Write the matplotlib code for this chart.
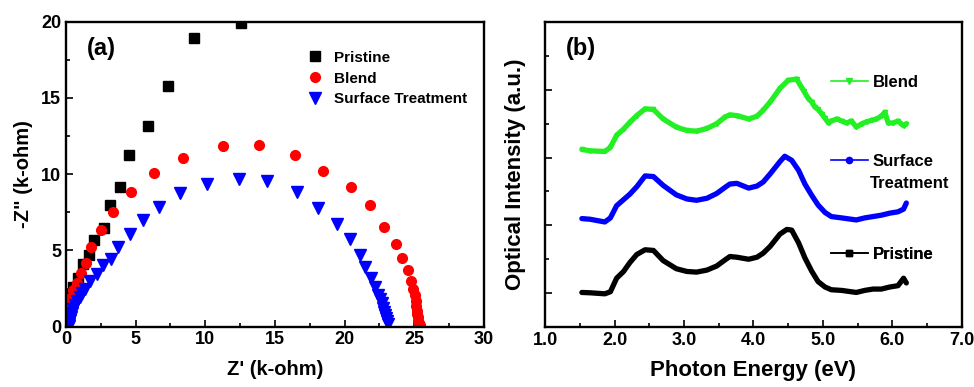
import matplotlib
matplotlib.use("Agg")
import matplotlib.pyplot as plt
from matplotlib.lines import Line2D
from matplotlib.ticker import MultipleLocator, NullFormatter

plt.rcParams["font.family"] = ["Liberation Sans", "DejaVu Sans"]
plt.rcParams["font.weight"] = "bold"
plt.rcParams["axes.labelweight"] = "bold"

# ---------------- (a) impedance data, Z' vs -Z'' in k-ohm ----------------
pristine_zr = [0.03, 0.08, 0.17, 0.29, 0.53, 0.88, 1.24, 1.68, 1.98, 2.70, 3.16, 3.88, 4.55, 5.86, 7.34, 9.19, 12.54]
pristine_zi = [0.55, 1.10, 1.64, 2.08, 2.62, 3.18, 4.10, 4.70, 5.67, 6.46, 7.97, 9.14, 11.28, 13.18, 15.80, 18.90, 19.93]

blend_zr = [0.02, 0.05, 0.10, 0.17, 0.29, 0.53, 0.81, 1.08, 1.44, 1.79, 2.51, 3.40, 4.64, 6.32, 8.42,
            11.24, 13.88, 16.44, 18.47, 20.45, 21.85, 22.84, 23.66, 24.15, 24.56, 24.76, 24.93, 25.02,
            25.10, 25.15, 25.19, 25.22, 25.25, 25.30, 25.35, 25.40]
blend_zi = [0.30, 0.65, 0.98, 1.42, 1.86, 2.40, 2.84, 3.54, 4.15, 5.25, 6.34, 7.50, 8.81, 10.05, 11.06,
            11.85, 11.89, 11.28, 10.23, 9.14, 7.95, 6.52, 5.42, 4.49, 3.70, 3.00, 2.50, 2.05,
            1.70, 1.36, 1.05, 0.80, 0.60, 0.40, 0.22, 0.08]

surface_zr = [0.20, 0.22, 0.24, 0.29, 0.35, 0.41, 0.52, 0.65, 0.82, 1.00, 1.18, 1.36, 1.72, 2.20, 2.68,
              3.21, 3.76, 4.59, 5.50, 6.70, 8.18, 10.10, 12.44, 14.40, 16.56, 18.11, 19.47, 20.36,
              21.08, 21.50, 21.88, 22.18, 22.42, 22.56, 22.66, 22.75, 22.83, 22.90, 22.97, 23.03, 23.08]
surface_zi = [0.05, 0.15, 0.30, 0.44, 0.65, 0.87, 1.15, 1.42, 1.70, 1.97, 2.20, 2.45, 2.99, 3.43, 4.04,
              4.42, 5.25, 6.05, 6.99, 7.87, 8.74, 9.36, 9.68, 9.55, 8.85, 7.76, 6.73, 5.77,
              4.68, 3.90, 3.18, 2.63, 2.10, 1.80, 1.54, 1.25, 0.99, 0.75, 0.55, 0.35, 0.18]

# ---------------- (b) optical spectra, energy in eV, offset intensity ----------------
pristine_ev = [1.53, 1.65, 1.86, 1.94, 2.03, 2.13, 2.22, 2.32, 2.44, 2.56, 2.70, 2.89, 3.04, 3.18, 3.33,
               3.47, 3.59, 3.66, 3.76, 3.93, 4.05, 4.14, 4.24, 4.38, 4.48, 4.55, 4.65, 4.74, 4.84,
               4.93, 5.03, 5.12, 5.27, 5.41, 5.48, 5.60, 5.72, 5.84, 5.96, 6.08, 6.16, 6.20]
pristine_int = [1.01, 1.005, 0.99, 1.02, 1.22, 1.32, 1.45, 1.57, 1.64, 1.63, 1.48, 1.36, 1.32, 1.31, 1.34,
                1.40, 1.49, 1.54, 1.53, 1.50, 1.53, 1.59, 1.69, 1.87, 1.94, 1.93, 1.74, 1.52, 1.32,
                1.17, 1.09, 1.05, 1.04, 1.02, 1.01, 1.04, 1.06, 1.06, 1.09, 1.11, 1.22, 1.15]

surface_ev = [1.53, 1.65, 1.86, 1.94, 2.03, 2.13, 2.22, 2.32, 2.44, 2.56, 2.70, 2.89, 3.04, 3.18, 3.33,
              3.47, 3.59, 3.66, 3.76, 3.93, 4.05, 4.14, 4.24, 4.38, 4.45, 4.55, 4.65, 4.74, 4.84,
              4.93, 5.03, 5.12, 5.27, 5.41, 5.48, 5.60, 5.72, 5.84, 5.96, 6.08, 6.16, 6.20]
surface_int = [2.10, 2.09, 2.05, 2.11, 2.29, 2.38, 2.46, 2.57, 2.73, 2.72, 2.59, 2.45, 2.39, 2.37, 2.40,
               2.47, 2.56, 2.61, 2.62, 2.55, 2.58, 2.64, 2.76, 2.94, 3.02, 2.96, 2.81, 2.61, 2.44,
               2.30, 2.19, 2.13, 2.11, 2.09, 2.08, 2.11, 2.13, 2.15, 2.18, 2.20, 2.24, 2.33]

blend_ev = [1.53, 1.65, 1.86, 1.94, 2.03, 2.13, 2.22, 2.32, 2.44, 2.56, 2.70, 2.89, 3.04, 3.18, 3.33,
            3.47, 3.59, 3.66, 3.76, 3.93, 4.05, 4.14, 4.24, 4.38, 4.50, 4.62, 4.72, 4.79, 4.84,
            4.88, 4.93, 4.98, 5.03, 5.08, 5.12, 5.20, 5.27, 5.34, 5.41, 5.48, 5.56, 5.63, 5.70,
            5.77, 5.84, 5.89, 5.94, 6.01, 6.08, 6.16, 6.20]
blend_int = [3.12, 3.10, 3.09, 3.15, 3.33, 3.42, 3.52, 3.62, 3.72, 3.71, 3.57, 3.45, 3.40, 3.39, 3.43,
             3.50, 3.60, 3.63, 3.62, 3.57, 3.61, 3.70, 3.82, 4.02, 4.14, 4.16, 3.99, 3.87, 3.82,
             3.75, 3.71, 3.65, 3.58, 3.51, 3.54, 3.57, 3.54, 3.51, 3.54, 3.45, 3.50, 3.53, 3.55,
             3.57, 3.61, 3.67, 3.51, 3.51, 3.54, 3.47, 3.50]

BLACK = "#000000"
RED = "#ff0000"
BLUE = "#0000ff"
GREEN = "#22f022"


def style_axes(ax):
    for sp in ax.spines.values():
        sp.set_linewidth(1.7)
    ax.tick_params(which="both", direction="in", top=False, right=False,
                   labelsize=13, width=1.2)
    ax.tick_params(which="major", length=5)
    ax.tick_params(which="minor", length=3)


fig = plt.figure(figsize=(9.74, 3.87), dpi=100)
ax1 = fig.add_axes([0.0678, 0.156, 0.429, 0.788])
ax2 = fig.add_axes([0.5596, 0.155, 0.428, 0.788])

# ---- panel (a)
ax1.plot(pristine_zr, pristine_zi, "s", color=BLACK, ms=6.5, label="Pristine")
ax1.plot(blend_zr, blend_zi, "o", color=RED, ms=7, label="Blend")
ax1.plot(surface_zr, surface_zi, "v", color=BLUE, ms=8, label="Surface Treatment")
ax1.set_xlim(0, 30)
ax1.set_ylim(0, 20)
ax1.xaxis.set_major_locator(MultipleLocator(5))
ax1.xaxis.set_minor_locator(MultipleLocator(2.5))
ax1.yaxis.set_major_locator(MultipleLocator(5))
ax1.yaxis.set_minor_locator(MultipleLocator(2.5))
style_axes(ax1)
ax1.set_xlabel("Z' (k-ohm)", fontsize=14.5, labelpad=8)
ax1.set_ylabel('-Z" (k-ohm)', fontsize=14.5, labelpad=6)
ax1.text(0.05, 0.95, "(a)", transform=ax1.transAxes, fontsize=17, fontweight="bold",
         va="top", ha="left")
ax1.legend(loc="upper left", bbox_to_anchor=(0.56, 0.925), frameon=False, fontsize=11,
           handletextpad=0.6, labelspacing=0.45, borderaxespad=0, handlelength=1.2)

# ---- panel (b)
ax2.plot(pristine_ev, pristine_int, "-", color=BLACK, lw=3.8, solid_capstyle="round")
ax2.plot(surface_ev, surface_int, "-", color=BLUE, lw=3.8, solid_capstyle="round")
ax2.plot(blend_ev, blend_int, "-", color=GREEN, lw=3.8, marker="v", ms=3, solid_capstyle="round")
ax2.set_xlim(1.0, 7.0)
ax2.set_ylim(0.5, 5.0)
ax2.xaxis.set_major_locator(MultipleLocator(1.0))
ax2.xaxis.set_minor_locator(MultipleLocator(0.5))
ax2.xaxis.set_major_formatter(plt.FormatStrFormatter("%.1f"))
ax2.yaxis.set_major_locator(MultipleLocator(1.0))
ax2.yaxis.set_minor_locator(MultipleLocator(0.5))
ax2.yaxis.set_major_formatter(NullFormatter())
style_axes(ax2)
ax2.set_xlabel("Photon Energy (eV)", fontsize=16, labelpad=8)
ax2.set_ylabel("Optical Intensity (a.u.)", fontsize=16, labelpad=10)
ax2.text(0.05, 0.95, "(b)", transform=ax2.transAxes, fontsize=17, fontweight="bold",
         va="top", ha="left")

entries = [
    (GREEN, "v", "Blend", 0.803),
    (BLUE, "o", "Surface", 0.544),
    (BLACK, "s", "Pristine", 0.239),
]
for color, mk, label, yfrac in entries:
    h = Line2D([], [], color=color, lw=1.2, marker=mk, ms=4.5)
    leg = ax2.legend([h], [label], loc="center left", bbox_to_anchor=(0.67, yfrac),
                     frameon=False, fontsize=12, handlelength=2.2, handletextpad=0.3,
                     borderaxespad=0)
    ax2.add_artist(leg)
ax2.text(0.78, 0.472, "Treatment", transform=ax2.transAxes, fontsize=12,
         fontweight="bold", va="center", ha="left")

fig.savefig("out.png", dpi=100)
